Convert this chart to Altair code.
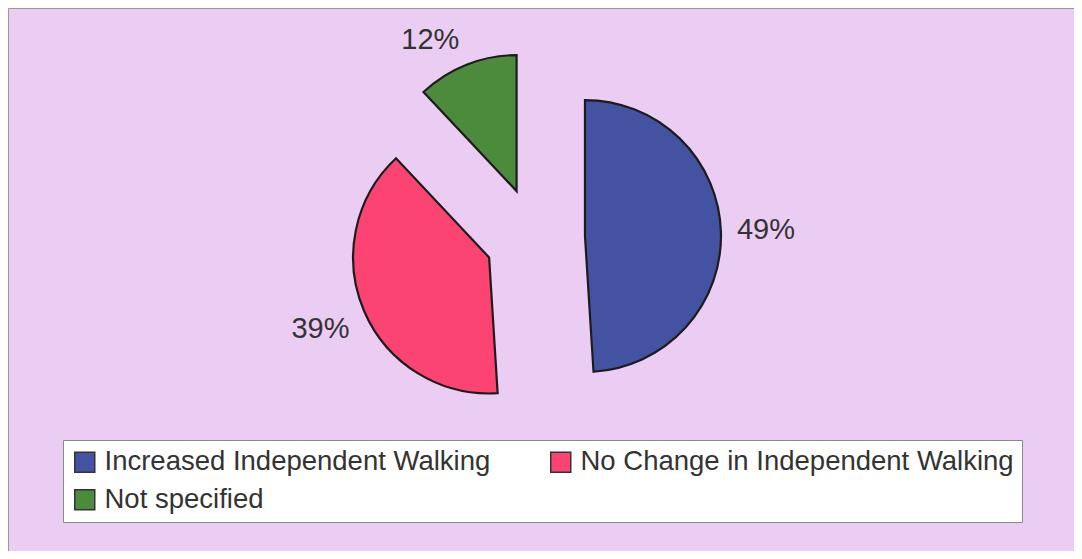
import altair as alt
import pandas as pd

# ---- data ----
categories = ["Increased Independent Walking", "No Change in Independent Walking", "Not specified"]
values = [49, 39, 12]
labels = ["49%", "39%", "12%"]
slice_order = [0, 1, 2]
colors = ["#4353A1", "#FC4473", "#4B8B3B"]

df = pd.DataFrame({"category": categories, "value": values, "label": labels, "order": slice_order})

# layout constants (pixels in the plot area)
CX, CY = 527, 229.6
EXPLODE = 50
R = 136
GAP = 14        # gap between arc and label box
HW, HH = 31, 12  # half width / half height of a label box

base = (
    alt.Chart(df)
    .transform_window(cum="sum(value)", sort=[alt.SortField("order")], frame=[None, 0])
    .transform_joinaggregate(total="sum(value)")
    .transform_calculate(
        start="2*PI*(datum.cum - datum.value)/datum.total",
        end="2*PI*datum.cum/datum.total",
    )
    .transform_calculate(mid="(datum.start + datum.end)/2")
    .transform_calculate(
        ux="sin(datum.mid)",
        uy="-cos(datum.mid)",
    )
    .transform_calculate(
        cx=f"{CX} + {EXPLODE}*datum.ux",
        cy=f"{CY} + {EXPLODE}*datum.uy",
    )
    .transform_calculate(
        lx=f"datum.cx + {R + GAP}*datum.ux + {HW}*clamp(3*datum.ux, -1, 1)",
        ly=f"datum.cy + {R + GAP}*datum.uy + {HH}*clamp(3*datum.uy, -1, 1)",
    )
)

arcs = base.mark_arc(radius=R, stroke="#1c1c1c", strokeWidth=2.2).encode(
    theta=alt.Theta("start:Q", scale=None, stack=None),
    theta2="end:Q",
    x=alt.X("cx:Q", scale=None, axis=None),
    y=alt.Y("cy:Q", scale=None, axis=None),
    color=alt.Color(
        "category:N",
        scale=alt.Scale(domain=categories, range=colors),
        legend=alt.Legend(
            title=None,
            orient="none",
            legendX=55,
            legendY=432,
            direction="horizontal",
            columns=2,
            columnPadding=56,
            rowPadding=9,
            symbolType="square",
            symbolSize=400,
            symbolStrokeColor="#333333",
            symbolStrokeWidth=1.5,
            labelFontSize=27.5,
            labelFont="Liberation Sans",
            labelColor="#333333",
            labelOffset=6,
            labelLimit=0,
            fillColor="white",
            strokeColor="#8a8a8a",
            padding=8,
        ),
    ),
)

text = base.mark_text(fontSize=29, font="Liberation Sans", color="#333333").encode(
    x=alt.X("lx:Q", scale=None, axis=None),
    y=alt.Y("ly:Q", scale=None, axis=None),
    text="label:N",
)

chart = (
    alt.layer(arcs, text)
    .properties(width=1066, height=543, background="#EBCDF4", padding=0, autosize="none")
    .configure_view(stroke="#9a9a9a", strokeWidth=1)
)

chart.save("out.html", embed_options={"renderer": "svg", "actions": False})
